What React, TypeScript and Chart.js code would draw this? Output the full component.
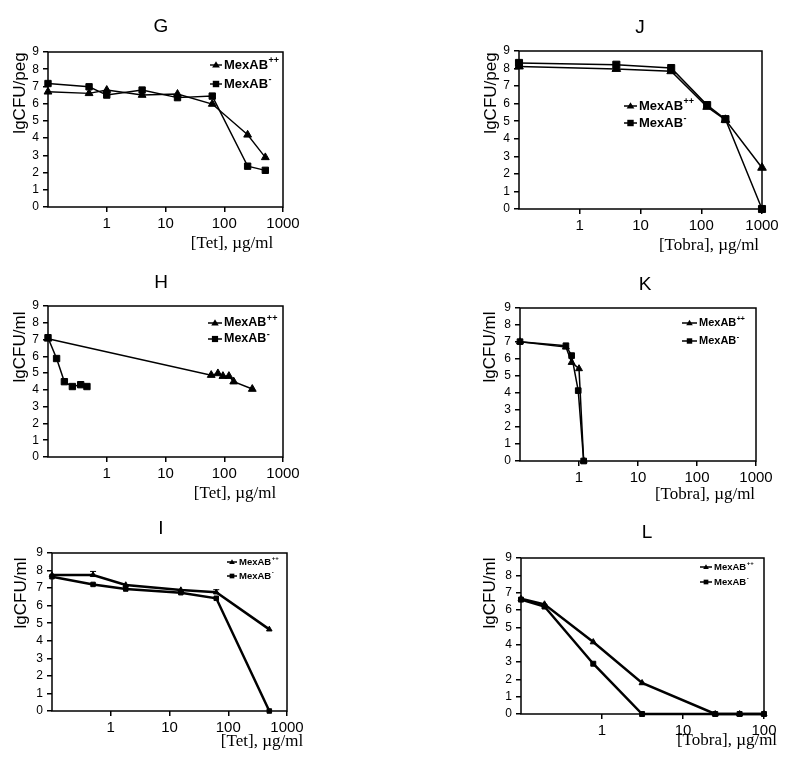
import React, { useEffect, useRef } from "react";
import { Chart, registerables } from "chart.js";

Chart.register(...registerables);
Chart.defaults.font.family = "'Liberation Sans', Arial, Helvetica, sans-serif";

// ---------- DATA ----------
const seriesNames = ["MexAB", "MexAB"];
const seriesSups = ["++", "-"];
const yTickMax = 9;

// G: Tet, biofilm (lgCFU/peg)
const gX = [0.1, 0.5, 1, 4, 16, 62.5, 250, 500];
const gPP = [6.69, 6.6, 6.79, 6.5, 6.56, 5.98, 4.19, 2.88];
const gM = [7.17, 6.98, 6.5, 6.79, 6.35, 6.44, 2.37, 2.13];

// J: Tobra, biofilm (lgCFU/peg)
const jX = [0.1, 4, 32, 125, 250, 1000];
const jPP = [8.12, 7.98, 7.85, 5.82, 5.08, 2.35];
const jM = [8.32, 8.22, 8.03, 5.92, 5.12, 0];

// H: Tet, planktonic (lgCFU/ml)
const hPPX = [0.1, 60, 78, 95, 120, 145, 300];
const hPP = [7.05, 4.88, 4.98, 4.82, 4.82, 4.49, 4.05];
const hMX = [0.1, 0.14, 0.19, 0.26, 0.36, 0.46];
const hM = [7.11, 5.87, 4.49, 4.2, 4.31, 4.2];

// K: Tobra, planktonic (lgCFU/ml)
const kPPX = [0.1, 0.6, 0.75, 1.0, 1.2];
const kPP = [7.02, 6.7, 5.8, 5.43, 0];
const kMX = [0.1, 0.6, 0.75, 0.97, 1.2];
const kM = [7.02, 6.78, 6.2, 4.14, 0];

// I: Tet (lgCFU/ml)
const iX = [0.1, 0.5, 1.8, 15.6, 62.5, 500];
const iPP = [7.75, 7.75, 7.18, 6.89, 6.76, 4.65];
const iPPErr = [0, 0.2, 0, 0, 0.15, 0];
const iM = [7.65, 7.21, 6.95, 6.74, 6.42, 0];

// L: Tobra (lgCFU/ml)
const lX = [0.1, 0.195, 0.78, 3.125, 25, 50, 100];
const lPP = [6.65, 6.33, 4.15, 1.79, 0, 0, 0];
const lM = [6.6, 6.2, 2.9, 0, 0, 0, 0];

// tick labels
const ticks1000 = [1, 10, 100, 1000];
const ticks100 = [1, 10, 100];

// ---------- LAYOUT ----------
type Series = { x: number[]; y: number[]; style: "triangle" | "rect"; err?: number[] };
type Panel = {
  title: string;
  canvas: [number, number, number, number];
  plot: [number, number, number, number];
  xMax: number;
  xTicks: number[];
  xLabel: string;
  yLabel: string;
  titlePos: [number, number];
  xLabelPos: [number, number];
  yLabelPos: [number, number];
  legend: [number, number, number, number, number]; // lineStartX, row1Y, row2Y, lineLen, fontSize
  lineWidth: number;
  pointRadius: number;
  series: Series[];
};

const panels: Panel[] = [
  {
    title: "G", canvas: [0, 0, 392, 262], plot: [48, 52, 283, 207], xMax: 1000, xTicks: ticks1000,
    xLabel: "[Tet], \u00b5g/ml", yLabel: "lgCFU/peg", titlePos: [161, 27], xLabelPos: [232, 244], yLabelPos: [20, 93],
    legend: [210, 65, 84, 12, 13], lineWidth: 1.4, pointRadius: 4.5,
    series: [{ x: gX, y: gPP, style: "triangle" }, { x: gX, y: gM, style: "rect" }],
  },
  {
    title: "J", canvas: [392, 0, 393, 262], plot: [519, 51, 762, 209], xMax: 1000, xTicks: ticks1000,
    xLabel: "[Tobra], \u00b5g/ml", yLabel: "lgCFU/peg", titlePos: [640, 28], xLabelPos: [709, 246], yLabelPos: [491, 93],
    legend: [624, 106, 123, 13, 13], lineWidth: 1.5, pointRadius: 5,
    series: [{ x: jX, y: jPP, style: "triangle" }, { x: jX, y: jM, style: "rect" }],
  },
  {
    title: "H", canvas: [0, 262, 392, 250], plot: [48, 306, 283, 457], xMax: 1000, xTicks: ticks1000,
    xLabel: "[Tet], \u00b5g/ml", yLabel: "lgCFU/ml", titlePos: [161, 283], xLabelPos: [235, 494], yLabelPos: [20, 347],
    legend: [208, 323, 339, 14, 12.5], lineWidth: 1.5, pointRadius: 4.5,
    series: [{ x: hPPX, y: hPP, style: "triangle" }, { x: hMX, y: hM, style: "rect" }],
  },
  {
    title: "K", canvas: [392, 262, 393, 250], plot: [520, 308, 756, 461], xMax: 1000, xTicks: ticks1000,
    xLabel: "[Tobra], \u00b5g/ml", yLabel: "lgCFU/ml", titlePos: [645, 285], xLabelPos: [705, 495], yLabelPos: [490, 347],
    legend: [682, 323, 341, 15, 11], lineWidth: 1.5, pointRadius: 4,
    series: [{ x: kPPX, y: kPP, style: "triangle" }, { x: kMX, y: kM, style: "rect" }],
  },
  {
    title: "I", canvas: [0, 512, 392, 255], plot: [52, 553, 287, 711], xMax: 1000, xTicks: ticks1000,
    xLabel: "[Tet], \u00b5g/ml", yLabel: "lgCFU/ml", titlePos: [161, 529], xLabelPos: [262, 742], yLabelPos: [21, 593],
    legend: [227, 562, 576, 10, 9.5], lineWidth: 2.5, pointRadius: 3.2,
    series: [{ x: iX, y: iPP, style: "triangle", err: iPPErr }, { x: iX, y: iM, style: "rect" }],
  },
  {
    title: "L", canvas: [392, 512, 393, 255], plot: [521, 558, 764, 714], xMax: 100, xTicks: ticks100,
    xLabel: "[Tobra], \u00b5g/ml", yLabel: "lgCFU/ml", titlePos: [647, 533], xLabelPos: [727, 741], yLabelPos: [490, 593],
    legend: [700, 567, 582, 12, 9.5], lineWidth: 2.5, pointRadius: 3.5,
    series: [{ x: lX, y: lPP, style: "triangle" }, { x: lX, y: lM, style: "rect" }],
  },
];

const SANS = "'Liberation Sans', Arial, Helvetica, sans-serif";
const SERIF = "'Liberation Serif', 'Times New Roman', serif";

function drawMarker(ctx: CanvasRenderingContext2D, style: string, x: number, y: number, r: number) {
  ctx.beginPath();
  if (style === "triangle") {
    const h = r * 1.5;
    ctx.moveTo(x, y - h * 0.6);
    ctx.lineTo(x + r * 0.9, y + h * 0.4);
    ctx.lineTo(x - r * 0.9, y + h * 0.4);
    ctx.closePath();
  } else {
    const s = r * 0.75;
    ctx.rect(x - s, y - s, 2 * s, 2 * s);
  }
  ctx.fill();
}

// Decorations: frame, error bars, title, axis labels and legend.
// Panel-level positions are page coordinates; canvases are laid out so that
// the page can be drawn on directly after translating by the canvas origin.
function decorPlugin(p: Panel) {
  return {
    id: "decor" + p.title,
    afterDatasetsDraw(chart: any) {
      const ctx: CanvasRenderingContext2D = chart.ctx;
      const area = chart.chartArea;
      const xs = chart.scales.x;
      const ys = chart.scales.y;
      ctx.save();
      ctx.strokeStyle = "#000";
      ctx.lineWidth = 1.5;
      ctx.strokeRect(area.left, area.top, area.right - area.left, area.bottom - area.top);
      p.series.forEach((s) => {
        if (!s.err) return;
        s.err.forEach((e, i) => {
          if (!e) return;
          const px = xs.getPixelForValue(s.x[i]);
          const py0 = ys.getPixelForValue(s.y[i]);
          const py1 = ys.getPixelForValue(s.y[i] + e);
          ctx.lineWidth = 1;
          ctx.beginPath();
          ctx.moveTo(px, py0);
          ctx.lineTo(px, py1);
          ctx.moveTo(px - 3, py1);
          ctx.lineTo(px + 3, py1);
          ctx.stroke();
        });
      });
      ctx.translate(-p.canvas[0], -p.canvas[1]);
      ctx.fillStyle = "#000";
      ctx.font = `19px ${SANS}`;
      ctx.textAlign = "center";
      ctx.textBaseline = "middle";
      ctx.fillText(p.title, p.titlePos[0], p.titlePos[1]);
      ctx.font = `17px ${SERIF}`;
      ctx.fillText(p.xLabel, p.xLabelPos[0], p.xLabelPos[1]);
      ctx.save();
      ctx.translate(p.yLabelPos[0], p.yLabelPos[1]);
      ctx.rotate(-Math.PI / 2);
      ctx.font = `17px ${SANS}`;
      ctx.fillText(p.yLabel, 0, 0);
      ctx.restore();
      const [lx, r1, r2, len, fs] = p.legend;
      [r1, r2].forEach((ry, i) => {
        const s = p.series[i];
        ctx.lineWidth = Math.min(p.lineWidth, 1.5);
        ctx.beginPath();
        ctx.moveTo(lx, ry);
        ctx.lineTo(lx + len, ry);
        ctx.stroke();
        drawMarker(ctx, s.style, lx + len / 2, ry, fs * 0.33);
        ctx.textAlign = "left";
        ctx.textBaseline = "middle";
        ctx.font = `bold ${fs}px ${SANS}`;
        const tx = lx + len + 2;
        ctx.fillText(seriesNames[i], tx, ry);
        const w = ctx.measureText(seriesNames[i]).width;
        ctx.font = `bold ${Math.round(fs * 0.68)}px ${SANS}`;
        ctx.fillText(seriesSups[i], tx + w + 0.5, ry - fs * 0.35);
      });
      ctx.restore();
    },
  };
}

function PanelChart({ p }: { p: Panel }) {
  const ref = useRef<HTMLCanvasElement>(null);
  const [cx, cy, cw, ch] = p.canvas;
  useEffect(() => {
    const [L, T, R, B] = p.plot;
    const WY = 30;
    const HX = 30;
    const grid = { drawOnChartArea: false, drawTicks: true, tickLength: 5, color: "#000", lineWidth: 1.5 };
    const chart = new Chart(ref.current as HTMLCanvasElement, {
      type: "line",
      data: {
        datasets: p.series.map((s) => ({
          data: s.x.map((x, i) => ({ x, y: s.y[i] })),
          borderColor: "#000",
          backgroundColor: "#000",
          borderWidth: p.lineWidth,
          pointStyle: s.style,
          pointRadius: p.pointRadius,
          pointBackgroundColor: "#000",
          pointBorderColor: "#000",
          pointBorderWidth: 1,
          tension: 0,
          clip: false,
        })) as any,
      },
      options: {
        animation: false,
        responsive: false,
        devicePixelRatio: 1,
        events: [],
        layout: { padding: { left: L - cx - WY, top: T - cy, right: cx + cw - R, bottom: cy + ch - B - HX } },
        plugins: { legend: { display: false }, tooltip: { enabled: false }, title: { display: false } },
        scales: {
          x: {
            type: "logarithmic",
            min: 0.1,
            max: p.xMax,
            afterBuildTicks: (s: any) => {
              s.ticks = p.xTicks.map((v) => ({ value: v }));
            },
            afterFit: (s: any) => {
              s.height = HX;
            },
            ticks: {
              callback: (v: any) => String(v),
              font: { size: 15, family: SANS },
              color: "#000",
              padding: 3,
              maxRotation: 0,
              autoSkip: false,
            },
            grid,
            border: { display: false },
          },
          y: {
            type: "linear",
            min: 0,
            max: yTickMax,
            afterFit: (s: any) => {
              s.width = WY;
            },
            ticks: { stepSize: 1, autoSkip: false, font: { size: 12, family: SANS }, color: "#000", padding: 4 },
            grid,
            border: { display: false },
          },
        },
      } as any,
      plugins: [decorPlugin(p)],
    });
    return () => chart.destroy();
  }, []);
  return (
    <canvas
      ref={ref}
      width={cw}
      height={ch}
      style={{ position: "absolute", left: cx, top: cy, width: cw, height: ch }}
    />
  );
}

export default function App() {
  return (
    <div style={{ position: "absolute", left: 0, top: 0, width: 785, height: 767, background: "#fff" }}>
      {panels.map((p) => (
        <PanelChart key={p.title} p={p} />
      ))}
    </div>
  );
}
